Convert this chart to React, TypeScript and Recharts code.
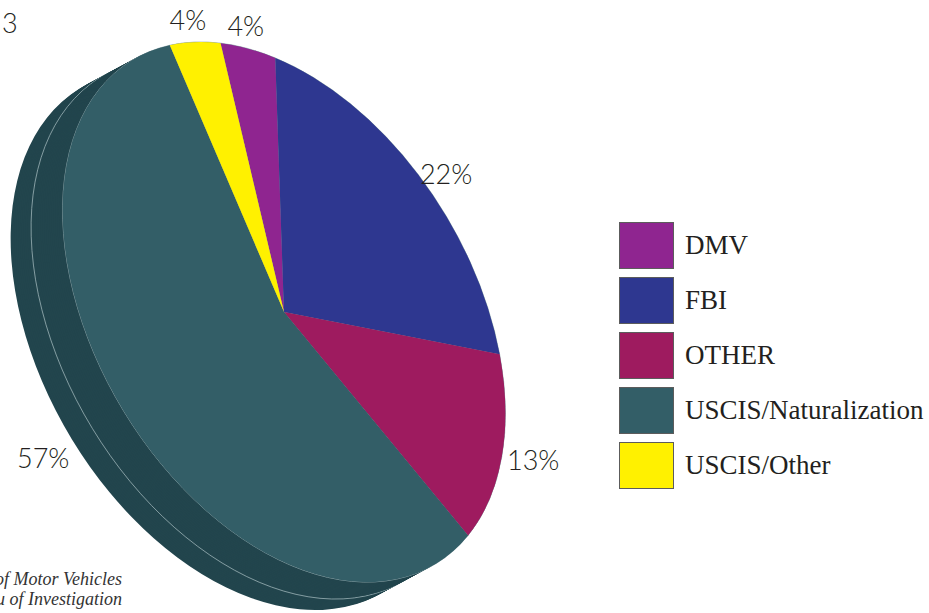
import { PieChart, Pie, Cell, Legend } from 'recharts';

// Requests by agency (share of total, %)
const agencies = ['DMV', 'FBI', 'OTHER', 'USCIS/Naturalization', 'USCIS/Other'];
const shares = [4, 22, 13, 57, 4];
const agencyColors = ['#8f2590', '#2e3790', '#9e1b5f', '#335e67', '#fff100'];

const data = agencies.map((name, i) => ({ name, value: shares[i] }));

// geometry of the tilted disc
const CX = 284;
const CY = 312;
const R = 100;
const START = 63.5;
// CSS matrix(a, b, c, d): squashes and tilts the circle into the ellipse
const MA = 1.615;
const MB = -0.971;
const MC = 1.514;
const MD = 2.52;
const DET = MA * MD - MB * MC;
const DEPTH = { x: -52, y: 28 }; // screen offset of the disc bottom
const SIDE = '#22454d';
const EDGE = '#9db4b7';

const toScreen = (x: number, y: number) => ({ x: MA * x + MC * y, y: MB * x + MD * y });
const fromScreen = (x: number, y: number) => ({ x: (MD * x - MC * y) / DET, y: (-MB * x + MA * y) / DET });

// keep the pie centre fixed while tilting
const centreMapped = toScreen(CX, CY);
const ME = CX - centreMapped.x;
const MF = CY - centreMapped.y;

const preDepth = fromScreen(DEPTH.x, DEPTH.y);
const STEPS = 28;
const layers = Array.from({ length: STEPS + 1 }, (_, k) => 1 - k / STEPS);

const screenAngle = (deg: number) => {
  const r = (deg * Math.PI) / 180;
  const p = toScreen(Math.cos(r), -Math.sin(r));
  return Math.atan2(p.y, p.x);
};

const renderLabel = (props: any) => {
  const { cx, cy, startAngle, endAngle, value } = props;
  const s0 = screenAngle(startAngle);
  const s1 = screenAngle(endAngle);
  let span = s1 - s0;
  while (span < 0) span += Math.PI * 2;
  const mid = s0 + span / 2;
  const sx = Math.cos(mid);
  const sy = Math.sin(mid);
  const pre = fromScreen(sx, sy);
  const edge = R / Math.hypot(pre.x, pre.y);
  const gap = 23 + 22 * Math.max(0, sy) + Math.max(0, sx * DEPTH.x + sy * DEPTH.y);
  return (
    <text
      x={cx + sx * (edge + gap)}
      y={cy + sy * (edge + gap)}
      dy="0.36em"
      textAnchor="middle"
      fill="#231f20"
      fontFamily="Lato, 'DejaVu Sans', sans-serif"
      fontWeight={300}
      fontSize={27}
    >
      {`${value}%`}
    </text>
  );
};

// legend drawn straight from the category arrays
const renderLegend = () => (
  <div style={{ display: 'flex', flexDirection: 'column', gap: 8 }}>
    {agencies.map((name, i) => (
      <div key={name} style={{ display: 'flex', alignItems: 'center', height: 47 }}>
        <span
          style={{
            width: 55,
            height: 47,
            flex: 'none',
            boxSizing: 'border-box',
            border: '1.5px solid #5c5c5c',
            background: agencyColors[i],
          }}
        />
        <span
          style={{
            marginLeft: 11,
            fontFamily: '"Liberation Serif", serif',
            fontSize: 27,
            color: '#231f20',
            whiteSpace: 'nowrap',
          }}
        >
          {name}
        </span>
      </div>
    ))}
  </div>
);

const css = `
body { margin: 0; }
.tilt:not(.tilt *) {
  transform-box: view-box;
  transform-origin: 0 0;
  transform: matrix(${MA}, ${MB}, ${MC}, ${MD}, ${ME}, ${MF});
}
.tilt path, path.tilt { vector-effect: non-scaling-stroke; }
`;

export default function App() {
  return (
    <div style={{ position: 'relative', width: 929, height: 613, overflow: 'hidden', background: '#fff' }}>
      <style>{css}</style>
      <PieChart width={929} height={613} margin={{ top: 0, right: 0, bottom: 0, left: 0 }}>
        {/* side wall of the disc, stacked from the bottom up */}
        {layers.map((t, k) => (
          <Pie
            key={`side-${k}`}
            className="tilt"
            data={data}
            dataKey="value"
            nameKey="name"
            cx={CX + preDepth.x * t}
            cy={CY + preDepth.y * t}
            outerRadius={R}
            startAngle={START}
            endAngle={START - 360}
            fill={SIDE}
            stroke={Math.abs(t - 0.6) < 0.02 || t === 0 ? EDGE : 'none'}
            strokeWidth={0.8}
            legendType="none"
            isAnimationActive={false}
          />
        ))}
        {/* top face */}
        <Pie
          className="tilt"
          data={data}
          dataKey="value"
          nameKey="name"
          cx={CX}
          cy={CY}
          outerRadius={R}
          startAngle={START}
          endAngle={START - 360}
          stroke="none"
          isAnimationActive={false}
        >
          {data.map((d, i) => (
            <Cell key={d.name} fill={agencyColors[i]} />
          ))}
        </Pie>
        {/* percent labels, placed around the ellipse */}
        <Pie
          data={data}
          dataKey="value"
          nameKey="name"
          cx={CX}
          cy={CY}
          outerRadius={R}
          startAngle={START}
          endAngle={START - 360}
          fill="none"
          stroke="none"
          label={renderLabel}
          labelLine={false}
          legendType="none"
          isAnimationActive={false}
        />
        <Legend
          verticalAlign="middle"
          align="right"
          layout="vertical"
          content={renderLegend}
          wrapperStyle={{ left: 619, top: 222, width: 310 }}
        />
      </PieChart>
      <div
        style={{
          position: 'absolute',
          left: 2,
          top: 6,
          fontFamily: "Lato, 'DejaVu Sans', sans-serif",
          fontWeight: 300,
          fontSize: 27,
          color: '#231f20',
        }}
      >
        3
      </div>
      <div
        style={{
          position: 'absolute',
          left: -378,
          width: 500,
          top: 569,
          textAlign: 'right',
          fontFamily: '"Liberation Serif", serif',
          fontStyle: 'italic',
          fontSize: 18,
          lineHeight: '20px',
          color: '#333',
          whiteSpace: 'nowrap',
        }}
      >
        <div>DMV = Department of Motor Vehicles</div>
        <div>FBI = Federal Bureau of Investigation</div>
      </div>
    </div>
  );
}
